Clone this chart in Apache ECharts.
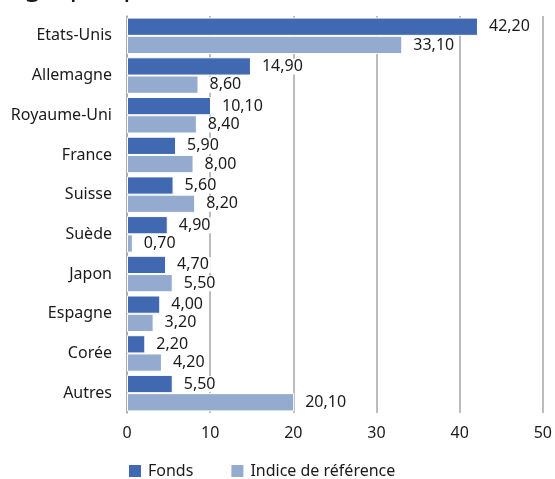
<!DOCTYPE html>
<html>
<head>
<meta charset="utf-8">
<script src="https://cdn.jsdelivr.net/npm/echarts@6/dist/echarts.min.js"></script>
<style>
  html, body { margin: 0; padding: 0; background: #fff; }
  #chart { width: 555px; height: 479px; }
</style>
</head>
<body>
<div id="chart"></div>
<script>
// Répartition géographique : fonds vs indice de référence (%)
const categories = ['Etats-Unis', 'Allemagne', 'Royaume-Uni', 'France', 'Suisse', 'Suède', 'Japon', 'Espagne', 'Corée', 'Autres'];
const fonds = [42.2, 14.9, 10.1, 5.9, 5.6, 4.9, 4.7, 4.0, 2.2, 5.5];
const indice = [33.1, 8.6, 8.4, 8.0, 8.2, 0.7, 5.5, 3.2, 4.2, 20.1];
const seriesNames = ['Fonds', 'Indice de référence'];
const xTicks = [0, 10, 20, 30, 40, 50];

const FONT = '"Noto Sans", sans-serif';
const TEXT = '#1a1a1a';

const fmt = v => v.toFixed(2).replace('.', ',');

const valueLabel = {
  show: true,
  position: 'right',
  distance: 9,
  formatter: p => fmt(p.value),
  fontFamily: FONT,
  fontSize: 16,
  color: TEXT,
  backgroundColor: '#fff',
  padding: [0, 2, 0, 2]
};

const chart = echarts.init(document.getElementById('chart'), null, { renderer: 'canvas' });

chart.setOption({
  animation: false,
  textStyle: { fontFamily: FONT },
  graphic: [{
    type: 'text',
    left: 24,
    top: -28,
    style: {
      text: 'graphique (%)',
      font: '29px ' + FONT,
      fill: TEXT
    }
  }],
  grid: { left: 127, right: 9, top: 16, bottom: 66 },
  legend: {
    data: seriesNames,
    left: 124,
    top: 458,
    itemWidth: 12,
    itemHeight: 12,
    itemGap: 38,
    icon: 'rect',
    itemStyle: { borderWidth: 0 },
    textStyle: { fontFamily: FONT, fontSize: 16, color: TEXT, padding: [0, 0, 0, 2] }
  },
  xAxis: {
    type: 'value',
    min: xTicks[0],
    max: xTicks[xTicks.length - 1],
    interval: 10,
    axisLine: { show: false },
    axisTick: { show: false },
    splitLine: { show: true, lineStyle: { color: '#a6a6a6', width: 1.5 } },
    axisLabel: { fontFamily: FONT, fontSize: 16, color: TEXT, margin: 12 }
  },
  yAxis: {
    type: 'category',
    data: categories,
    inverse: true,
    axisLine: { show: true, lineStyle: { color: '#a6a6a6', width: 1.5 } },
    axisTick: { show: false },
    axisLabel: { fontFamily: FONT, fontSize: 16, color: TEXT, margin: 15 }
  },
  series: [
    {
      name: seriesNames[0],
      type: 'bar',
      data: fonds,
      barGap: '0%',
      barCategoryGap: '8%',
      itemStyle: { color: '#4169b2', borderColor: '#fff', borderWidth: 1 },
      label: valueLabel,
      z: 3
    },
    {
      name: seriesNames[1],
      type: 'bar',
      data: indice,
      itemStyle: { color: '#95aacf', borderColor: '#fff', borderWidth: 1 },
      label: valueLabel,
      z: 2
    }
  ]
});
</script>
</body>
</html>
